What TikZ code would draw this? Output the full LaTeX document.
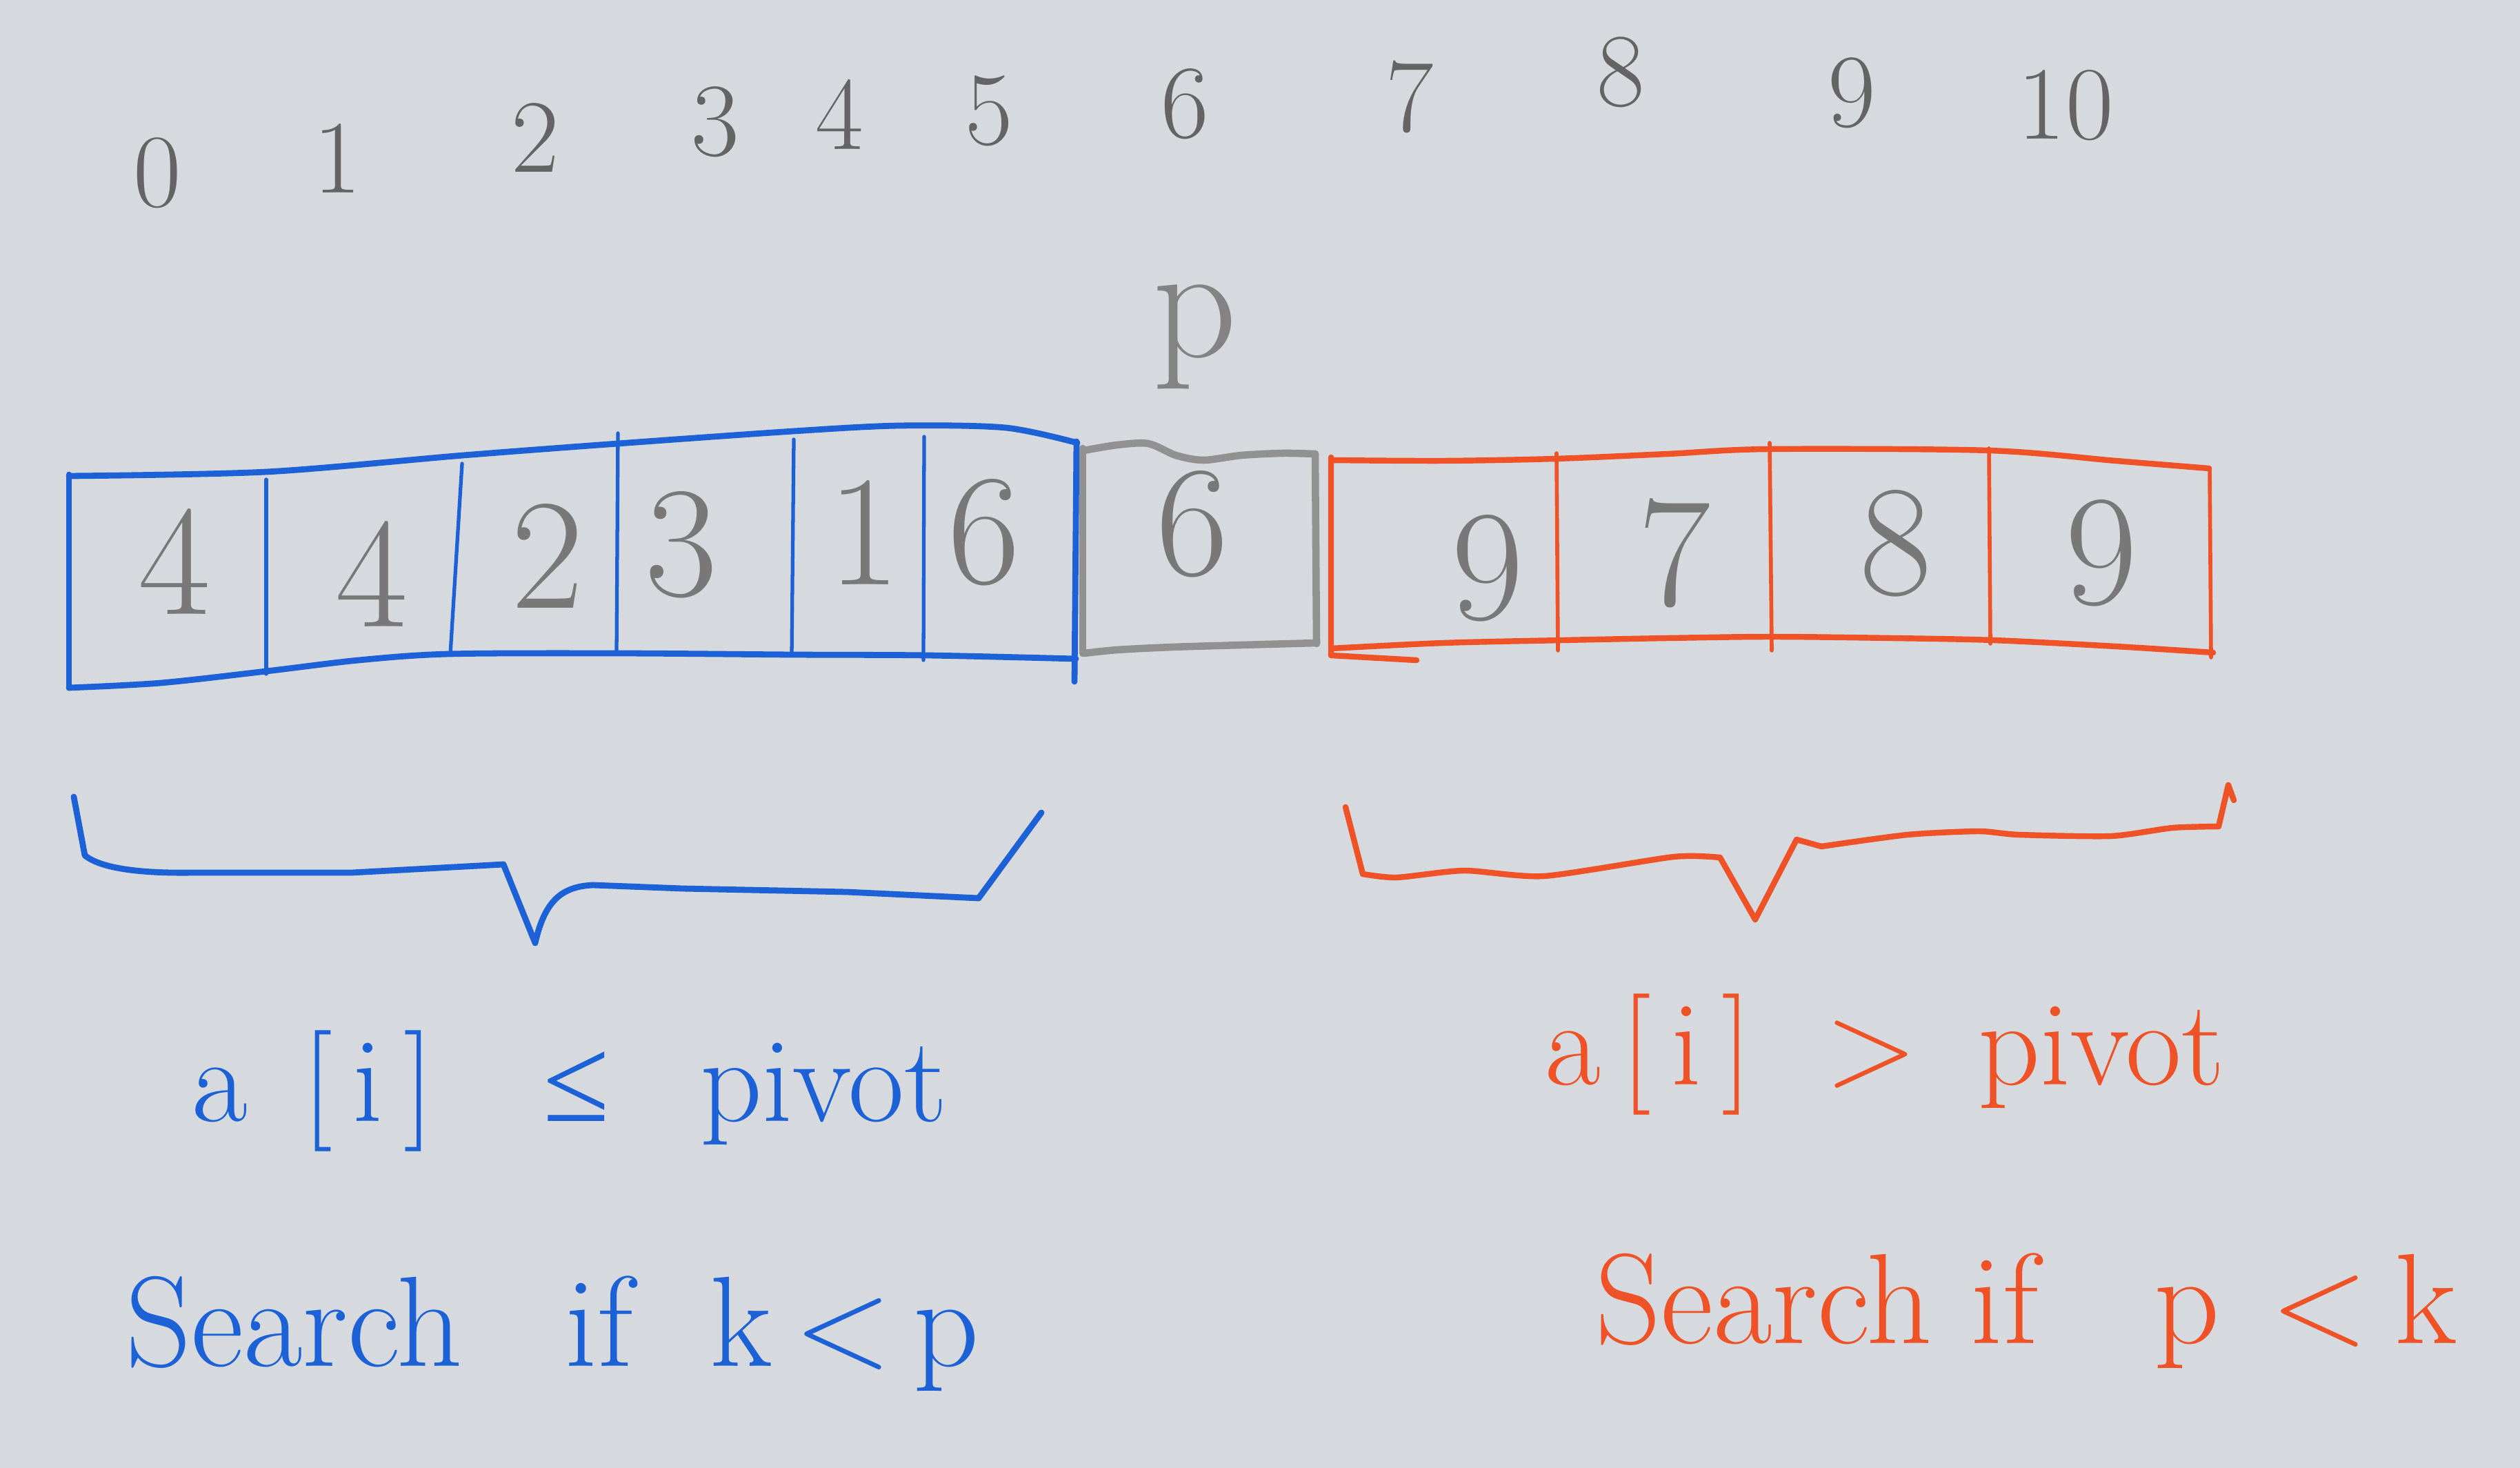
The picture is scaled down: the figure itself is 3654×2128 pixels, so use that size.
\documentclass[tikz,border=0pt]{standalone}
\usepackage{fontspec}
\newfontfamily\symserif{Liberation Serif}
\definecolor{paper}{RGB}{214,218,222}
\definecolor{penblue}{RGB}{28,98,214}
\definecolor{penred}{RGB}{238,82,38}
\definecolor{pencilgray}{RGB}{145,145,145}
\definecolor{leadgray}{RGB}{100,100,100}
\definecolor{cellgray}{RGB}{120,120,120}
\tikzset{
  bluepen/.style={draw=penblue, line width=2.5pt, line cap=round, line join=round},
  bluethin/.style={draw=penblue, line width=1.5pt, line cap=round},
  redpen/.style={draw=penred, line width=2.4pt, line cap=round, line join=round},
  redthin/.style={draw=penred, line width=1.6pt, line cap=round},
  pencilpen/.style={draw=pencilgray, line width=3pt, line cap=round, line join=round},
  idxnum/.style={text=leadgray, inner sep=0pt, font=\fontsize{43}{43}\selectfont},
  cellnum/.style={text=cellgray, inner sep=0pt, font=\fontsize{65}{65}\selectfont},
  bluelbl/.style={text=penblue, inner sep=0pt, anchor=base},
  redlbl/.style={text=penred, inner sep=0pt, anchor=base},
}
\begin{document}
\begin{tikzpicture}[x=0.01cm, y=-0.01cm]
\useasboundingbox (0,0) rectangle (3654,2128);
\fill[paper] (0,0) rectangle (3654,2128);

% index row
\node[idxnum] (i0) at (228,251) {0};
\node[idxnum] (i1) at (489,230) {1};
\node[idxnum] (i2) at (776,200) {2};
\node[idxnum] (i3) at (1037,177) {3};
\node[idxnum] (i4) at (1217,166) {4};
\node[idxnum] (i5) at (1434,161) {5};
\node[idxnum] (i6) at (1718,151) {6};
\node[idxnum] (i7) at (2044,141) {7};
\node[idxnum] (i8) at (2350,105) {8};
\node[idxnum] (i9) at (2685,135) {9};
\node[idxnum] (i10) at (2995,153) {10};

% pivot marker
\node[text=pencilgray!90!black, inner sep=0pt, font=\fontsize{68}{68}\selectfont] (pmark) at (1733,488) {p};

% blue part (left of pivot)
\draw[bluepen] plot[smooth, tension=0.5] coordinates {(100,690) (386,684) (672,660) (896,643) (1151,625) (1304,617) (1458,620) (1562,642)};
\draw[bluepen] plot[smooth, tension=0.5] coordinates {(100,997) (233,990) (386,973) (520,957) (651,948) (896,947) (1151,949) (1345,950) (1560,955)};
\draw[bluepen] (100,688) -- (100,997);
\draw[bluepen] (1561,640) -- (1558,988);
\draw[bluethin] (386,695) -- (386,977);
\draw[bluethin] (670,672) -- (653,948);
\draw[bluethin] (896,628) -- (894,947);
\draw[bluethin] (1151,637) -- (1148,950);
\draw[bluethin] (1340,633) -- (1339,957);

% pivot cell (pencil)
\draw[pencilpen] plot[smooth, tension=0.5] coordinates {(1572,653) (1620,645) (1665,643) (1705,660) (1745,667) (1800,660) (1860,657) (1907,658)};
\draw[pencilpen] (1907,658) -- (1909,933);
\draw[pencilpen] plot[smooth, tension=0.5] coordinates {(1572,947) (1620,942) (1700,938) (1800,935) (1909,932)};
\draw[pencilpen] (1570,650) -- (1570,947);

% red part (right of pivot)
\draw[redpen] plot[smooth, tension=0.5] coordinates {(1930,667) (2093,668) (2255,665) (2418,658) (2564,651) (2884,653) (3068,668) (3203,679)};
\draw[redpen] plot[smooth, tension=0.5] coordinates {(1930,940) (2093,932) (2266,928) (2418,925) (2569,923) (2743,925) (2890,928) (3068,937) (3209,946)};
\draw[redpen] (1930,663) -- (1930,950) -- (2054,957);
\draw[redthin] (2257,657) -- (2259,943);
\draw[redthin] (2566,642) -- (2569,943);
\draw[redthin] (2884,650) -- (2886,933);
\draw[redthin] (3204,678) -- (3206,953);

% cell values
\node[cellnum] (v0) at (253,814) {4};
\node[cellnum] (v1) at (539,832) {4};
\node[cellnum] (v2) at (794,806) {2};
\node[cellnum] (v3) at (988,790) {3};
\node[cellnum] (v4) at (1253,772) {1};
\node[cellnum] (v5) at (1427,772) {6};
\node[cellnum] (v6) at (1729,760) {6};
\node[cellnum] (v7) at (2157,824) {9};
\node[cellnum] (v8) at (2428,802) {7};
\node[cellnum] (v9) at (2749,788) {8};
\node[cellnum] (v10) at (3047,802) {9};

% braces
\draw[bluepen] (107,1155) -- (123,1240) .. controls (150,1262) and (220,1266) .. (281,1265)
  -- (510,1265) -- (730,1253) -- (776,1367)
  .. controls (790,1305) and (815,1285) .. (860,1283)
  -- (989,1288) -- (1228,1293) -- (1419,1302) -- (1510,1178);
\draw[redpen] plot[smooth, tension=0.4] coordinates {(1976,1267) (2025,1272) (2123,1262) (2239,1270) (2427,1242) (2494,1243)};
\draw[redpen] (1951,1170) -- (1976,1267);
\draw[redpen] (2494,1243) -- (2545,1333) -- (2605,1217) -- (2641,1227);
\draw[redpen] plot[smooth, tension=0.4] coordinates {(2641,1227) (2766,1210) (2869,1205) (2927,1210) (3061,1212) (3150,1200) (3217,1198)};
\draw[redpen] (3217,1198) -- (3231,1138) -- (3239,1160);

% conditions
\node[bluelbl, font=\fontsize{50}{50}\selectfont] (lcond) at (826,1625)
  {a\hspace{0.45em}[\,i\,]\hspace{0.9em}{\symserif ≤}\hspace{0.75em}pivot};
\node[redlbl, font=\fontsize{50}{50}\selectfont] (rcond) at (2733,1572)
  {a\,[\,i\,]\hspace{0.6em}>\hspace{0.5em}pivot};

% search rules
\node[bluelbl, font=\fontsize{53}{53}\selectfont] (lsearch) at (801,1980)
  {Search\hspace{0.8em}if\hspace{0.6em}k\,<\,p};
\node[redlbl, font=\fontsize{53}{53}\selectfont] (rsearch) at (2938,1947)
  {Search\hspace{0.3em}if\hspace{0.9em}p\hspace{0.4em}<\hspace{0.2em}k};
\end{tikzpicture}
\end{document}
